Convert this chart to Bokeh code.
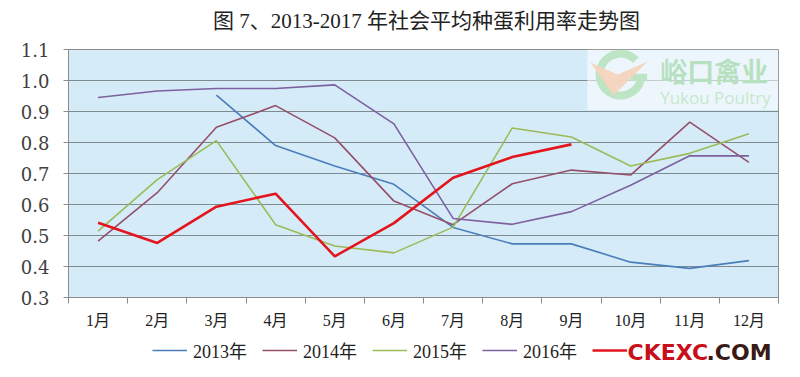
from bokeh.plotting import figure
from bokeh.layouts import column
from bokeh.models import (Range1d, LinearAxis, FixedTicker, Legend, LegendItem,
                          Label, BoxAnnotation, Grid)
from bokeh.core.properties import value
from bokeh.embed import file_html
from bokeh.resources import INLINE

months = ["1月", "2月", "3月", "4月", "5月", "6月", "7月", "8月", "9月", "10月", "11月", "12月"]
y2013 = [None, None, 0.953, 0.790, 0.724, 0.665, 0.526, 0.473, 0.473, 0.414, 0.394, 0.419]
y2014 = [0.482, 0.638, 0.849, 0.919, 0.815, 0.611, 0.535, 0.667, 0.711, 0.695, 0.866, 0.736]
y2015 = [0.514, 0.680, 0.806, 0.535, 0.466, 0.444, 0.527, 0.847, 0.818, 0.724, 0.765, 0.828]
y2016 = [0.945, 0.966, 0.974, 0.974, 0.986, 0.860, 0.555, 0.536, 0.577, 0.662, 0.757, 0.757]
y2017 = [0.541, 0.476, 0.593, 0.635, 0.433, 0.540, 0.686, 0.753, 0.794]
series_names = ["2013年", "2014年", "2015年", "2016年", "2017年"]
y_ticks = [0.3, 0.4, 0.5, 0.6, 0.7, 0.8, 0.9, 1.0, 1.1]
title_text = "图 7、2013-2017 年社会平均种蛋利用率走势图"

SERIF = "'Liberation Serif', 'Noto Sans CJK SC', serif"

# title row (its frame is aligned with the main frame: page x 68..778)
p0 = figure(width=800, height=40, output_backend="svg", toolbar_location=None,
            x_range=Range1d(68, 778), y_range=Range1d(0, 40),
            min_border=0, x_axis_type=None, y_axis_type=None,
            outline_line_color=None, background_fill_color="white")
p0.xgrid.visible = False
p0.ygrid.visible = False
p0.add_layout(Label(x=426, y=20, text=title_text, text_align="center",
                    text_baseline="middle", text_font=SERIF,
                    text_font_size="21px", text_color="#222222"))

p = figure(width=800, height=291, output_backend="svg", toolbar_location=None,
           x_range=Range1d(0, 12), y_range=Range1d(0.3, 1.1),
           min_border_left=68, min_border_right=22, min_border_top=9, min_border_bottom=5,
           background_fill_color="#D6EBF8", border_fill_color="white",
           x_axis_type=None, y_axis_type=None, outline_line_color="#8C8C8C")

# y axis
yaxis = LinearAxis(ticker=FixedTicker(ticks=y_ticks))
yaxis.major_label_overrides = {t: f"{t:.1f}" for t in y_ticks}
yaxis.axis_line_color = "#8C8C8C"
yaxis.major_tick_line_color = "#8C8C8C"
yaxis.major_tick_in = 0
yaxis.major_tick_out = 5
yaxis.minor_tick_line_color = None
yaxis.major_label_standoff = 14
yaxis.major_label_text_font = "DejaVu Serif"
yaxis.major_label_text_font_size = "18px"
yaxis.major_label_text_color = "#404040"
p.add_layout(yaxis, "left")

# x axis: ticks at category boundaries
xb = LinearAxis(ticker=FixedTicker(ticks=list(range(13))))
xb.major_label_text_font_size = "0px"
xb.major_label_text_color = None
xb.axis_line_color = "#8C8C8C"
xb.major_tick_line_color = "#8C8C8C"
xb.major_tick_in = 0
xb.major_tick_out = 6
xb.minor_tick_line_color = None
xb.major_label_standoff = 0
p.add_layout(xb, "below")

centers = [i + 0.5 for i in range(12)]
xl = LinearAxis(ticker=FixedTicker(ticks=centers))
xl.major_label_overrides = {c: m for c, m in zip(centers, months)}
xl.axis_line_color = None
xl.major_tick_line_color = None
xl.minor_tick_line_color = None
xl.major_label_standoff = 2
xl.major_label_text_font = SERIF
xl.major_label_text_font_size = "16px"
xl.major_label_text_color = "#222222"
p.add_layout(xl, "below")

p.xgrid.visible = False
p.ygrid.visible = False
p.add_layout(Grid(dimension=1, ticker=FixedTicker(ticks=y_ticks),
                  grid_line_color="#7F8A90", grid_line_width=1))

colors = ["#4A7EBB", "#94506A", "#9BBB59", "#7D60A0", "#E3141C"]
widths = [1.6, 1.6, 1.6, 1.6, 2.6]
data = [y2013, y2014, y2015, y2016, y2017]
for ys, c, w in zip(data, colors, widths):
    xs = [centers[i] for i in range(len(ys)) if ys[i] is not None]
    yv = [v for v in ys if v is not None]
    p.line(xs, yv, line_color=c, line_width=w)

# logo watermark (decoration)
p.add_layout(BoxAnnotation(left=8.77, right=12, top=1.1, bottom=0.906,
                           fill_color="white", fill_alpha=0.55, line_color=None))
p.annular_wedge(x=[9.33], y=[1.019], inner_radius=17, outer_radius=25,
                inner_radius_units="screen", outer_radius_units="screen",
                start_angle=0.75, end_angle=6.2, fill_color="#6CC47F", line_color=None)
p.quad(left=[9.50], right=[9.78], top=[1.022], bottom=[0.998],
       fill_color="#6CC47F", line_color=None)
p.patch(x=[8.82, 9.28, 9.79, 9.21], y=[1.058, 1.019, 1.061, 0.952],
        fill_color="#E9A06C", line_color=None, fill_alpha=0.95)
p.text(x=[10.0], y=[1.033], text=["峪口禽业"], text_font=value("Noto Sans CJK SC"),
       text_font_style="bold", text_font_size="27px", text_color="#5DBB73",
       text_baseline="middle")
p.text(x=[10.0], y=[0.946], text=["Yukou Poultry"], text_font=value("Open Sans"),
       text_font_size="17px", text_color="#7FCB8E", text_baseline="middle")

# legend row (frame aligned with main frame: page x 68..778)
p2 = figure(width=800, height=46, output_backend="svg", toolbar_location=None,
            x_range=Range1d(68, 778), y_range=Range1d(0, 46),
            min_border=0, x_axis_type=None, y_axis_type=None,
            outline_line_color=None, background_fill_color="white")
p2.xgrid.visible = False
p2.ygrid.visible = False
leg_r = [p2.line(x=[0, 10], y=[-20, -20], line_color=c, line_width=w)
         for c, w in zip(colors, widths)]
legend = Legend(items=[LegendItem(label=n, renderers=[r]) for n, r in zip(series_names[:4], leg_r[:4])]
                + [LegendItem(label=" ", renderers=[leg_r[4]])],
                orientation="horizontal", location=(84, 14),
                label_text_font=SERIF, label_text_font_size="18px",
                label_text_color="#222222", glyph_width=35, label_standoff=6,
                spacing=15, border_line_color=None, background_fill_alpha=0,
                padding=0, margin=0)
p2.add_layout(legend, "center")
p2.add_layout(Label(x=627, y=25, text="CKEXC", text_baseline="middle",
                    text_font="DejaVu Sans", text_font_style="bold",
                    text_font_size="22px", text_color="#C8101A"))
p2.add_layout(Label(x=706, y=25, text=".COM", text_baseline="middle",
                    text_font="DejaVu Sans", text_font_style="bold",
                    text_font_size="22px", text_color="#3A1A16"))

layout = column(p0, p, p2, spacing=0)
open("out.html", "w").write(file_html(layout, INLINE))
